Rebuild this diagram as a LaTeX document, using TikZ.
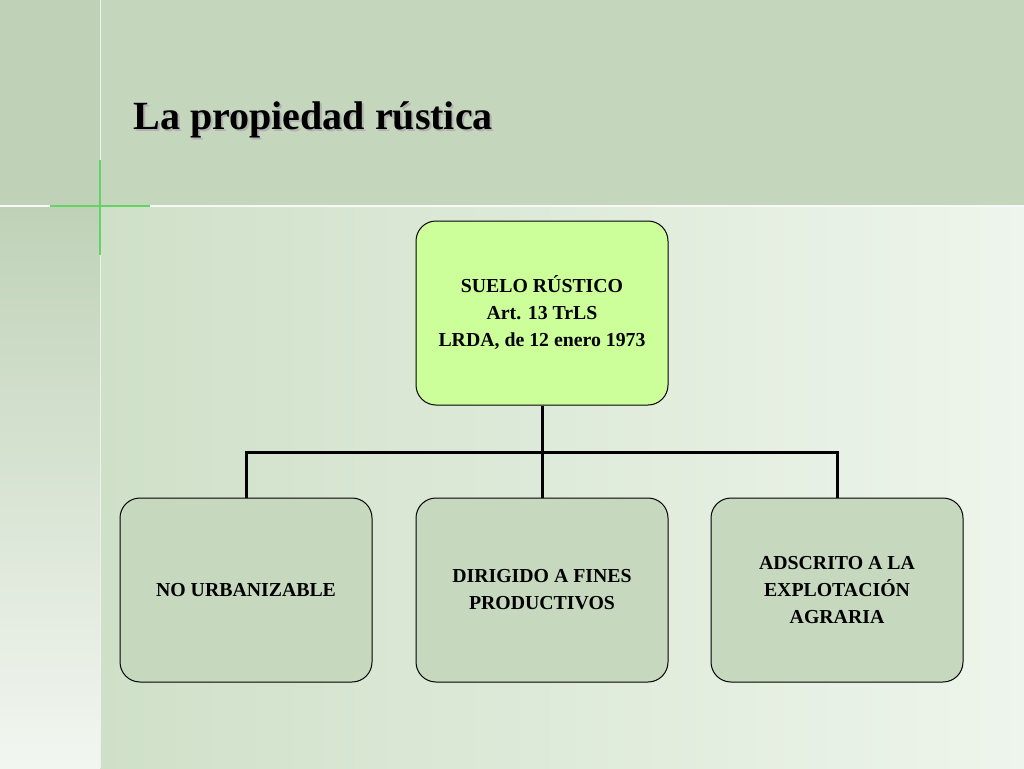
\documentclass[tikz,border=0pt]{standalone}
\usepackage{fontspec}
\setmainfont{Liberation Serif}
\begin{document}
\begin{tikzpicture}[x=1pt,y=-1pt,
 box/.style={draw=black,line width=1pt,rounded corners=20pt,minimum width=252pt,minimum height=184pt,align=center,font=\bfseries\fontsize{19.8}{27}\selectfont},
 conn/.style={line width=3pt}]
\definecolor{bgtop}{HTML}{C4D6BC}
\definecolor{bgleft}{HTML}{BFD2B7}
\definecolor{bgmid}{HTML}{CFE0C8}
\definecolor{bgright}{HTML}{EEF5EC}
\definecolor{topbox}{HTML}{CCFF99}
\definecolor{botbox}{HTML}{C6D8BE}
\useasboundingbox (0,0) rectangle (1024,768);
\fill[bgtop] (0,0) rectangle (1024,205);
\shade[left color=bgmid,right color=bgright] (100,205) rectangle (1024,768);
\shade[top color=bgleft,bottom color=white!80!bgleft] (0,205) rectangle (100,768);
\fill[bgleft] (0,0) rectangle (100,205);
\draw[white!85!bgtop,line width=1.5pt] (0,206) -- (1024,206);
\draw[white!70!bgtop,line width=1pt] (100,0) -- (100,768);
\draw[green!70!black!60!white,line width=1.5pt] (50,206) -- (150,206);
\draw[green!70!black!60!white,line width=1.5pt] (100,160) -- (100,255);
\node[anchor=base west,font=\bfseries\fontsize{40}{46}\selectfont,text=gray!60] at (132,131) {La propiedad rústica};
\node[anchor=base west,font=\bfseries\fontsize{40}{46}\selectfont] (title) at (130,129) {La propiedad rústica};
\node[box,fill=topbox] (top) at (542,313) {SUELO RÚSTICO\\Art. 13 TrLS\\LRDA, de 12 enero 1973};
\node[box,fill=botbox] (a) at (246,590) {NO URBANIZABLE};
\node[box,fill=botbox] (b) at (542,590) {DIRIGIDO A FINES\\PRODUCTIVOS};
\node[box,fill=botbox] (c) at (837,590) {ADSCRITO A LA\\EXPLOTACIÓN\\AGRARIA};
\coordinate (j) at (542,452);
\draw[conn] (top.south) -- (j);
\draw[conn] (j) -| (a.north);
\draw[conn] (j) -- (b.north);
\draw[conn] (j) -| (c.north);
\end{tikzpicture}
\end{document}
